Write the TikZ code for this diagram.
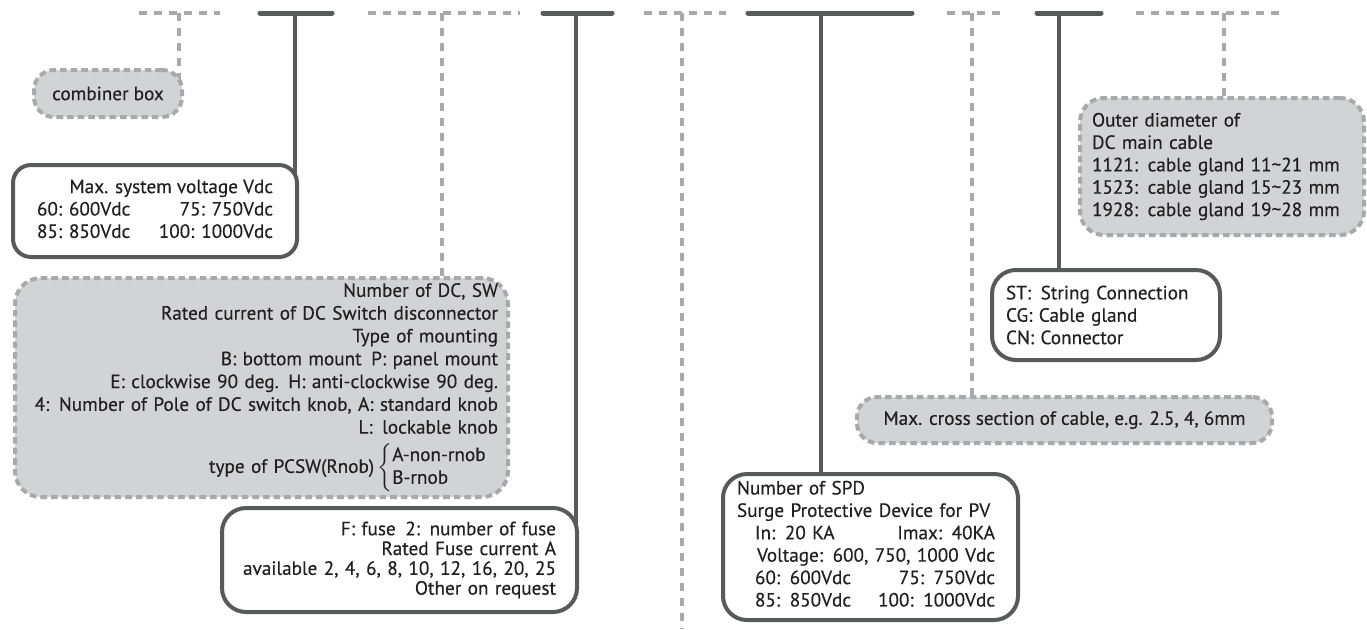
\documentclass[tikz,border=0pt]{standalone}
\usepackage{fontspec}
\setmainfont{PT Sans}[BoldFont={PT Sans},BoldFeatures={FakeBold=0.35}]
\usepackage{amsmath}
\usetikzlibrary{backgrounds}
\definecolor{cinzaescuro}{HTML}{58595B}
\definecolor{cinzaclaro}{HTML}{A7A9AC}
\definecolor{cinzafundo}{HTML}{D1D3D4}
\definecolor{tinta}{HTML}{231F20}

\begin{document}
\begin{tikzpicture}[x=0.5pt,y=-0.5pt,
  font=\fontsize{9.6}{11.2}\selectfont\bfseries, text=tinta,
  barra/.style={draw=cinzaescuro,line width=2.5pt,line cap=round},
  haste/.style={draw=cinzaescuro,line width=2pt},
  pontilhado/.style={draw=cinzaclaro,line width=2pt,dash pattern=on 4pt off 3.5pt},
  caixa/.style={draw=cinzaescuro,line width=2pt,fill=white,rounded corners=9pt,inner sep=0pt},
  caixacinza/.style={draw=cinzaclaro,line width=2pt,dash pattern=on 3.3pt off 2pt,fill=cinzafundo,rounded corners=10pt,inner sep=0pt}]
\useasboundingbox (0,0) rectangle (1367,629);
% Caixas
\node[caixacinza,minimum width=74pt,minimum height=23.5pt] (combiner) at (108,93.5) {combiner box};
\node[caixa,minimum width=142pt,minimum height=46pt] (tensao) at (155,211) {%
\begin{tabular*}{118pt}{@{}l@{\extracolsep{\fill}}r@{}}
\multicolumn{2}{@{}r@{}}{Max. system voltage Vdc}\\
60: 600Vdc & 75: 750Vdc\\
85: 850Vdc & 100: 1000Vdc
\end{tabular*}};
\node[caixacinza,rounded corners=13pt,text width=236.5pt,inner xsep=5pt,minimum height=109.5pt,align=right,font=\fontsize{9.6}{11.4}\selectfont\bfseries] (chave) at (261.5,387.5) {%
Number of DC, SW\\
Rated current of DC Switch disconnector\\
Type of mounting\\
B: bottom mount\enspace P: panel mount\\
E: clockwise 90 deg.\enspace H: anti-clockwise 90 deg.\\
4: Number of Pole of DC switch knob, A: standard knob\\
L:\enspace lockable knob\\[4pt]
type of PCSW(Rnob)\,$\left\{\begin{tabular}{@{}l@{}}A-non-rnob\\B-rnob\end{tabular}\right.$\kern5pt};
\node[caixa,rounded corners=12pt,text width=156.5pt,inner xsep=10.5pt,minimum height=52pt,align=right,font=\fontsize{9.6}{9.9}\selectfont\bfseries] (fusivel) at (399.5,560) {%
F: fuse\enspace 2: number of fuse\\
Rated Fuse current A\\
available 2, 4, 6, 8, 10, 12, 16, 20, 25\\
Other on request};
\node[caixa,rounded corners=12pt,text width=133.5pt,inner xsep=7pt,minimum height=73pt,align=left] (spd) at (870.5,547) {%
Number of SPD\\
Surge Protective Device for PV\\
\hspace*{9pt}\begin{tabular*}{120pt}[t]{@{}l@{\extracolsep{\fill}}r@{}}
In: 20 KA & Imax: 40KA\\
\multicolumn{2}{@{}r@{}}{Voltage: 600, 750, 1000 Vdc}\\
60: 600Vdc & 75: 750Vdc\\
85: 850Vdc & 100: 1000Vdc
\end{tabular*}};
\node[caixacinza,minimum width=207.5pt,minimum height=23pt] (secao) at (1064.5,420) {Max. cross section of cable, e.g. 2.5, 4, 6mm};
\node[caixa,rounded corners=12pt,text width=100pt,inner xsep=7pt,minimum height=45pt,align=left] (conexao) at (1106,315) {%
ST:\enspace String Connection\\
CG: Cable gland\\
CN: Connector};
\node[caixacinza,rounded corners=12pt,text width=130pt,inner xsep=6pt,minimum height=68.5pt,align=left] (diametro) at (1222,166.5) {%
Outer diameter of\\
DC main cable\\
1121: cable gland 11\textasciitilde21 mm\\
1523: cable gland 15\textasciitilde23 mm\\
1928: cable gland 19\textasciitilde28 mm};
% Linha superior e hastes
\begin{scope}[on background layer]
\coordinate (a1) at (139,13); \coordinate (a2) at (220,13); \coordinate (ah) at (179,13);
\coordinate (b1) at (260,13); \coordinate (b2) at (332,13); \coordinate (bh) at (295,13);
\coordinate (c1) at (368,13); \coordinate (c2) at (520,13); \coordinate (ch) at (442,13);
\coordinate (d1) at (543,13); \coordinate (d2) at (612,13); \coordinate (dh) at (576,13);
\coordinate (e1) at (644,13); \coordinate (e2) at (726,13); \coordinate (eh) at (682,13);
\coordinate (ef) at (682,629);
\coordinate (f1) at (748,13); \coordinate (f2) at (912,13); \coordinate (fh) at (821,13);
\coordinate (g1) at (947,13); \coordinate (g2) at (1000,13); \coordinate (gh) at (972,13);
\coordinate (h1) at (1037,13); \coordinate (h2) at (1101,13); \coordinate (hh) at (1059,13);
\coordinate (i1) at (1136,13); \coordinate (i2) at (1281,13); \coordinate (ih) at (1224,13);
\draw[pontilhado] (a1) -- (a2);
\draw[pontilhado] (ah) -- (ah |- combiner.center);
\draw[barra] (b1) -- (b2);
\draw[haste] (bh) -- (bh |- tensao.center);
\draw[pontilhado] (c1) -- (c2);
\draw[pontilhado] (ch) -- (ch |- chave.center);
\draw[barra] (d1) -- (d2);
\draw[haste] (dh) -- (dh |- fusivel.center);
\draw[pontilhado] (e1) -- (e2);
\draw[pontilhado] (eh) -- (ef);
\draw[barra] (f1) -- (f2);
\draw[haste] (fh) -- (fh |- spd.center);
\draw[pontilhado] (g1) -- (g2);
\draw[pontilhado] (gh) -- (gh |- secao.center);
\draw[barra] (h1) -- (h2);
\draw[haste] (hh) -- (hh |- conexao.center);
\draw[pontilhado] (i1) -- (i2);
\draw[pontilhado] (ih) -- (ih |- diametro.center);
\end{scope}
\end{tikzpicture}
\end{document}
